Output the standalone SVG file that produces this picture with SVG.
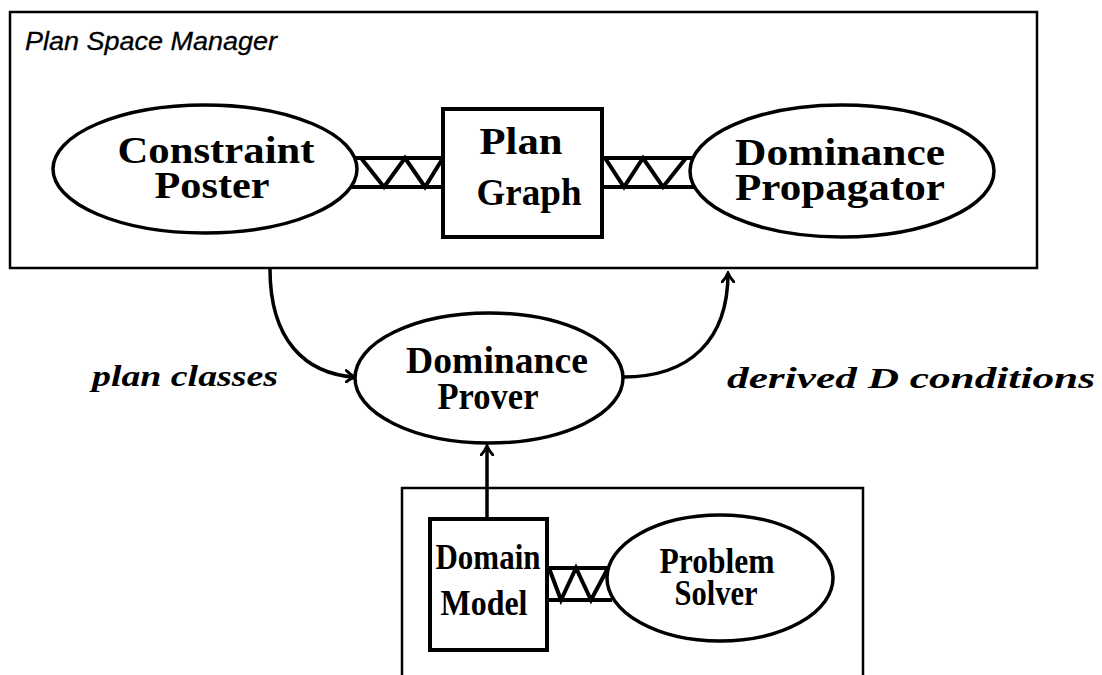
<svg xmlns="http://www.w3.org/2000/svg" width="1102" height="675" viewBox="0 0 1102 675">
  <style>
    .frame { fill: none; stroke: #000; stroke-width: 2.5; }
    .node { fill: #fff; stroke: #000; stroke-width: 3.5; }
    .box { fill: #fff; stroke: #000; stroke-width: 4; }
    .rail { fill: none; stroke: #000; stroke-width: 4; stroke-linejoin: miter; }
    .arrow { fill: none; stroke: #000; stroke-width: 3.5; marker-end: url(#head); }
    .title { font-family: "Liberation Sans", Arial, sans-serif; font-style: italic; font-size: 25px; fill: #000; stroke: #000; stroke-width: 0.3; }
    .big { font-family: "Liberation Serif", "Times New Roman", serif; font-weight: bold; font-size: 37px; fill: #000; text-anchor: middle; }
    .mid { font-family: "Liberation Serif", "Times New Roman", serif; font-weight: bold; font-size: 36px; fill: #000; text-anchor: middle; }
    .lbl { font-family: "Liberation Serif", "Times New Roman", serif; font-weight: bold; font-style: italic; font-size: 29px; fill: #000; }
  </style>
  <defs>
    <marker id="head" viewBox="0 0 12 14" refX="10" refY="7" markerWidth="12" markerHeight="14" markerUnits="userSpaceOnUse" orient="auto">
      <path d="M1,1 Q5,5 10,7 Q5,9 1,13" fill="none" stroke="#000" stroke-width="3" stroke-linecap="round"/>
    </marker>
  </defs>

  <!-- outer frames -->
  <g id="plan-space-manager">
    <rect class="frame" x="10" y="12" width="1027" height="256"/>
    <text class="title" x="25" y="50" textLength="252" lengthAdjust="spacingAndGlyphs">Plan Space Manager</text>
  </g>
  <g id="solver-frame">
    <path class="frame" d="M402,680 L402,488 L863,488 L863,680"/>
  </g>

  <!-- connectors -->
  <g id="connectors">
    <!-- constraint poster to plan graph -->
    <path class="rail" d="M352,158 L443,158 M350,187 L443,187 M361,158 L384,187 L405,158 L425,187 L443,158"/>
    <!-- plan graph to dominance propagator -->
    <path class="rail" d="M602,158 L694,158 M602,187 L694,187 M605,158 L624,187 L643,158 L663,187 L686,158"/>
    <!-- domain model to problem solver -->
    <path class="rail" d="M547,568 L612,568 M547,600 L612,600 M549,568 L561,600 L576,568 L591,600 L608,568"/>
    <!-- arrows -->
    <path class="arrow" d="M270,269 C270,340 305,374 355,377"/>
    <path class="arrow" d="M623,377 C690,377 728,340 728,273"/>
    <path class="arrow" d="M487,519 L487,446"/>
    <text class="lbl" x="92" y="386" textLength="186" lengthAdjust="spacingAndGlyphs">plan classes</text>
    <text class="lbl" x="727" y="388" textLength="368" lengthAdjust="spacingAndGlyphs">derived D conditions</text>
  </g>

  <g id="constraint-poster">
    <ellipse class="node" cx="205" cy="169" rx="152" ry="64"/>
    <text class="big" x="216" y="163" textLength="197" lengthAdjust="spacingAndGlyphs">Constraint</text>
    <text class="big" x="212" y="198" textLength="115" lengthAdjust="spacingAndGlyphs">Poster</text>
  </g>

  <g id="plan-graph">
    <rect class="box" x="443" y="109" width="159" height="128"/>
    <text class="big" x="521" y="154" textLength="83" lengthAdjust="spacingAndGlyphs">Plan</text>
    <text class="big" x="529" y="205" textLength="105" lengthAdjust="spacingAndGlyphs">Graph</text>
  </g>

  <g id="dominance-propagator">
    <ellipse class="node" cx="842" cy="171" rx="152" ry="66"/>
    <text class="big" x="840" y="165" textLength="210" lengthAdjust="spacingAndGlyphs">Dominance</text>
    <text class="big" x="840" y="200" textLength="210" lengthAdjust="spacingAndGlyphs">Propagator</text>
  </g>

  <g id="dominance-prover">
    <ellipse class="node" cx="489" cy="378" rx="134" ry="65"/>
    <text class="big" x="497" y="373" textLength="182" lengthAdjust="spacingAndGlyphs">Dominance</text>
    <text class="big" x="488" y="409" textLength="101" lengthAdjust="spacingAndGlyphs">Prover</text>
  </g>

  <g id="domain-model">
    <rect class="box" x="430" y="519" width="117" height="131"/>
    <text class="mid" x="488" y="569" textLength="105" lengthAdjust="spacingAndGlyphs">Domain</text>
    <text class="mid" x="484" y="615" textLength="87" lengthAdjust="spacingAndGlyphs">Model</text>
  </g>

  <g id="problem-solver">
    <ellipse class="node" cx="720" cy="578" rx="113" ry="63"/>
    <text class="mid" x="717" y="573" textLength="115" lengthAdjust="spacingAndGlyphs">Problem</text>
    <text class="mid" x="716" y="605" textLength="83" lengthAdjust="spacingAndGlyphs">Solver</text>
  </g>
</svg>
